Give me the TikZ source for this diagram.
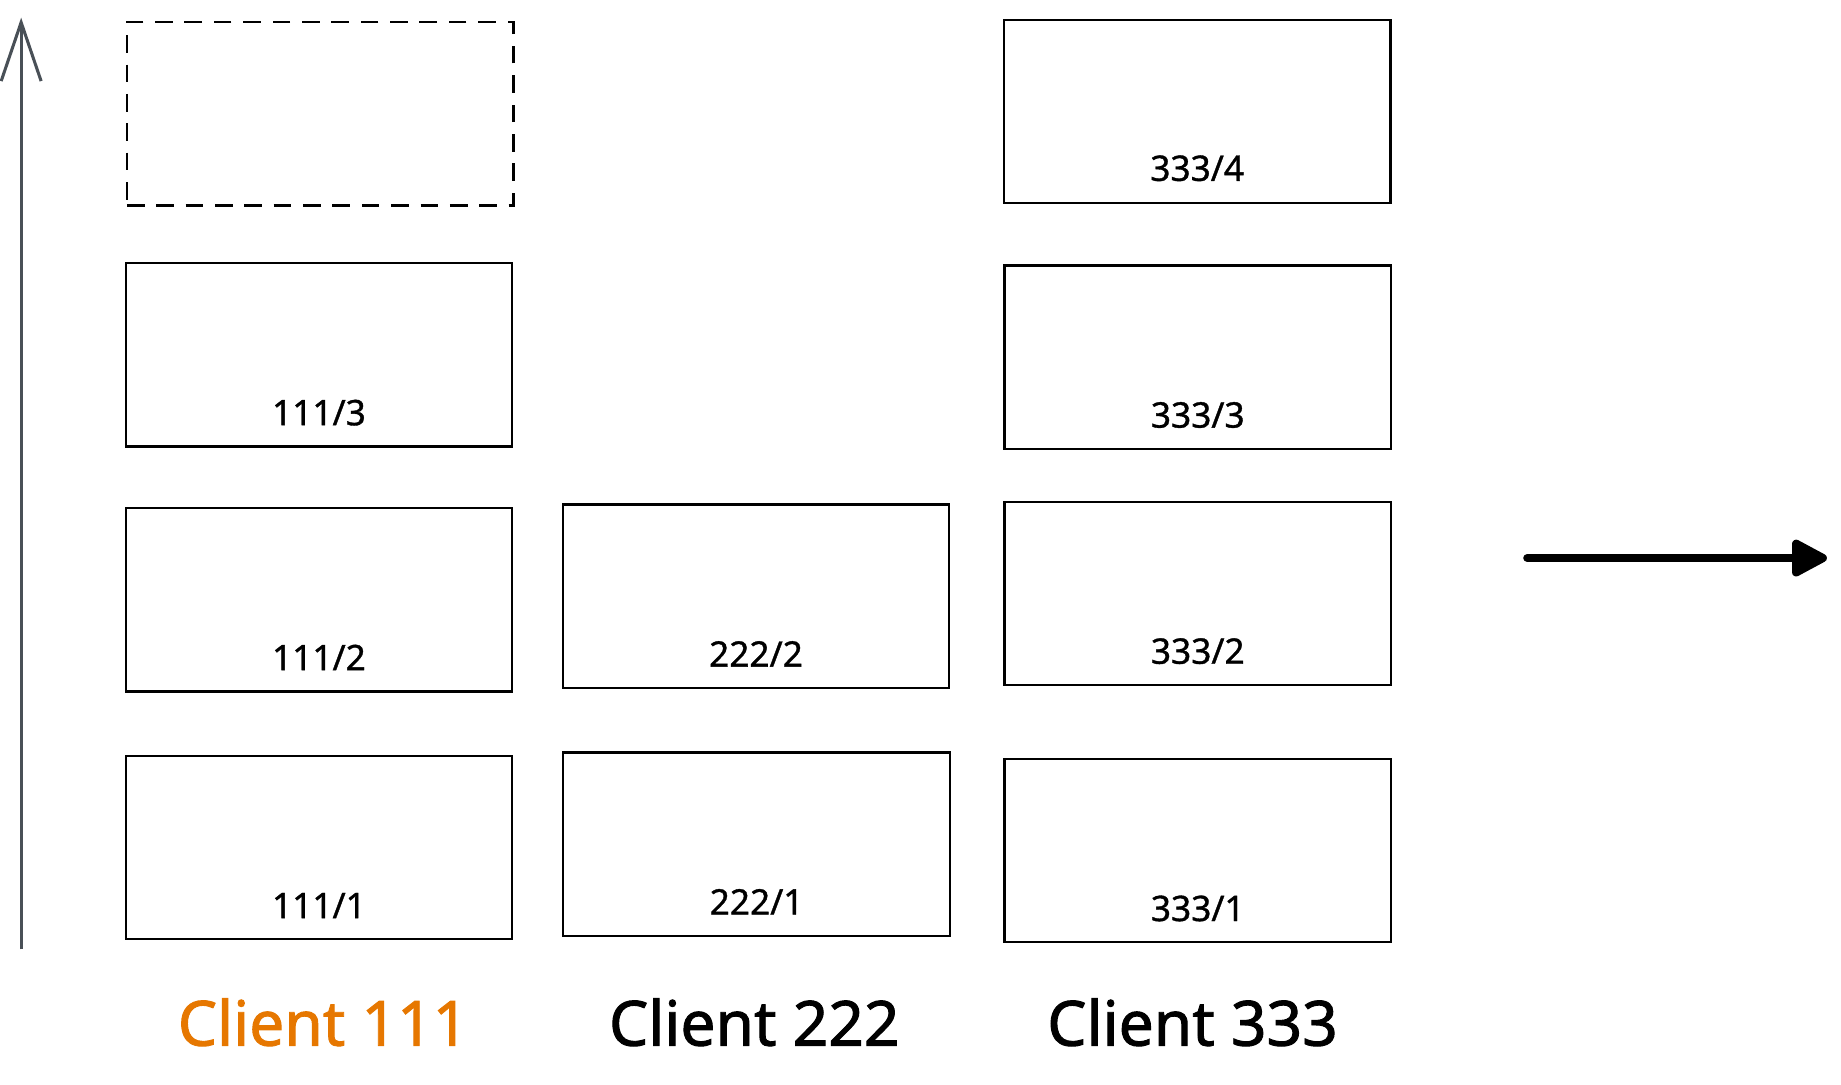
\documentclass[tikz,border=0pt]{standalone}
\usepackage{fontspec}
\usepackage{tikz}
\usetikzlibrary{arrows.meta}
\newfontfamily\numfont[FakeBold=1]{Noto Sans}
\newfontfamily\handfont[FakeBold=1.5]{Noto Sans}
\definecolor{clientorange}{HTML}{E67700}
\definecolor{axisgray}{HTML}{495057}

\begin{document}
\begin{tikzpicture}[x=1pt,y=-1pt,
  box/.style={draw=black, line width=1.9pt, minimum width=329pt, minimum height=156pt, inner sep=0pt},
  num/.style={anchor=base, font=\numfont\fontsize{30}{32}\selectfont},
  client/.style={anchor=base, font=\handfont\fontsize{53}{56}\selectfont}]
\useasboundingbox (0,0) rectangle (1567,922.7);

% time axis
\coordinate (t0) at (18,808);
\coordinate (t1) at (18,15);
\draw[axisgray, line width=2.6pt, -{Straight Barb[length=50pt,width=34pt]}] (t0) -- (t1);

% client 111
\node[box, dashed, dash pattern=on 15pt off 10pt] (b14) at (272.5,97) {};
\node[box] (b13) at (271.5,302) {};
\node[num] (n13) at ([yshift=19pt]b13.south) {111/3};
\node[box] (b12) at (271.5,510.5) {};
\node[num] (n12) at ([yshift=19pt]b12.south) {111/2};
\node[box] (b11) at (271.5,721.5) {};
\node[num] (n11) at ([yshift=19pt]b11.south) {111/1};

% client 222
\node[box] (b22) at (643.5,507.5) {};
\node[num] (n22) at ([yshift=19pt]b22.south) {222/2};
\node[box] (b21) at (644,718.5) {};
\node[num] (n21) at ([yshift=19pt]b21.south) {222/1};

% client 333
\node[box] (b34) at (1019,95) {};
\node[num] (n34) at ([yshift=20pt]b34.south) {333/4};
\node[box] (b33) at (1019.5,304) {};
\node[num] (n33) at ([yshift=19pt]b33.south) {333/3};
\node[box] (b32) at (1019.5,505) {};
\node[num] (n32) at ([yshift=19pt]b32.south) {333/2};
\node[box] (b31) at (1019.5,724) {};
\node[num] (n31) at ([yshift=19pt]b31.south) {333/1};

\node[client, text=clientorange] (c1) at (275,890) {Client 111};
\node[client] (c2) at (642,890) {Client 222};
\node[client] (c3) at (1015,890) {Client 333};

% offset arrow
\coordinate (m0) at (1300,475);
\coordinate (m1) at (1555,475);
\draw[line width=7pt, line cap=round, -{Triangle[length=34pt,width=34pt,round]}] (m0) -- (m1);

\end{tikzpicture}
\end{document}
